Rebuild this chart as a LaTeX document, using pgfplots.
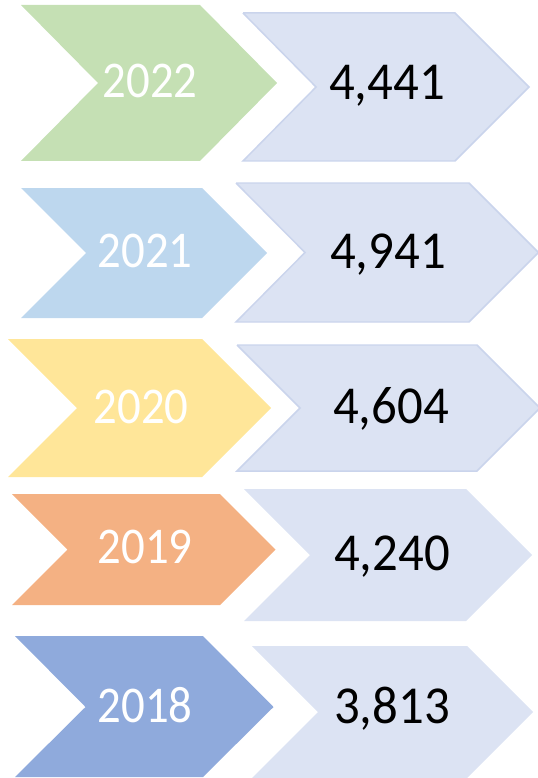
\documentclass[border=0pt]{standalone}
\usepackage{pgfplots}
\pgfplotsset{compat=1.18}
\usepackage{fontspec}
\setmainfont{Carlito}
\definecolor{cgreen}{HTML}{C5E0B4}
\definecolor{clblue}{HTML}{BDD7EE}
\definecolor{cyellow}{HTML}{FFE699}
\definecolor{corange}{HTML}{F4B183}
\definecolor{cblue}{HTML}{8FAADC}
\definecolor{cval}{HTML}{DCE3F3}
\definecolor{cvalb}{HTML}{CAD4EC}
\newcommand{\yr}[1]{\scalebox{1}[1.1]{\fontsize{47}{50}\selectfont #1}}
\newcommand{\vl}[1]{\scalebox{1}[1.05]{\fontsize{51}{54}\selectfont #1}}
\begin{document}
\begin{tikzpicture}
\begin{axis}[
  width=538bp, height=778bp, scale only axis,
  xmin=0, xmax=538, ymin=0, ymax=778, y dir=reverse,
  hide axis, clip=true]
% 2022
\addplot[fill=cgreen, draw=none] coordinates {(21,5) (200,5) (277,83) (200,161) (21,161) (98,83)};
\addplot[fill=cval, draw=cvalb, line width=1.5pt] coordinates {(243,13) (455,13) (529,87) (455,161) (243,161) (316,87) (243,13)};
% 2021
\addplot[fill=clblue, draw=none] coordinates {(21,188) (202,188) (267,253) (202,318) (21,318) (86,253)};
\addplot[fill=cval, draw=cvalb, line width=1.5pt] coordinates {(236,183) (469,183) (538.5,252.5) (469,322) (236,322) (305,252.5) (236,183)};
% 2020
\addplot[fill=cyellow, draw=none] coordinates {(8,339) (202,339) (271,408) (202,477) (8,477) (77,408)};
\addplot[fill=cval, draw=cvalb, line width=1.5pt] coordinates {(237,345) (477,345) (540,408) (477,471) (237,471) (300,408) (237,345)};
% 2019
\addplot[fill=corange, draw=none] coordinates {(12,494) (220,494) (275.5,549.5) (220,605) (12,605) (67.5,549.5)};
\addplot[fill=cval, draw=none] coordinates {(244,489) (466,489) (532,555) (466,621) (244,621) (310,555)};
% 2018
\addplot[fill=cblue, draw=none] coordinates {(15,636) (203,636) (273.5,707) (203,777) (15,777) (85.5,707)};
\addplot[fill=cval, draw=none] coordinates {(252,646) (467,646) (533,712) (467,778) (252,778) (318,712)};
% labels
\node[anchor=base, text=white] at (axis cs:150,98) {\yr{2022}};
\node[anchor=base, text=black] at (axis cs:387,100) {\vl{4,441}};
\node[anchor=base, text=white] at (axis cs:145,267) {\yr{2021}};
\node[anchor=base, text=black] at (axis cs:388,268) {\vl{4,941}};
\node[anchor=base, text=white] at (axis cs:141,423) {\yr{2020}};
\node[anchor=base, text=black] at (axis cs:391,423) {\vl{4,604}};
\node[anchor=base, text=white] at (axis cs:145,563) {\yr{2019}};
\node[anchor=base, text=black] at (axis cs:392,570) {\vl{4,240}};
\node[anchor=base, text=white] at (axis cs:145,722) {\yr{2018}};
\node[anchor=base, text=black] at (axis cs:392,723) {\vl{3,813}};
\end{axis}
\pgfresetboundingbox
\path[use as bounding box] (current axis.south west) rectangle (current axis.north east);
\end{tikzpicture}
\end{document}
